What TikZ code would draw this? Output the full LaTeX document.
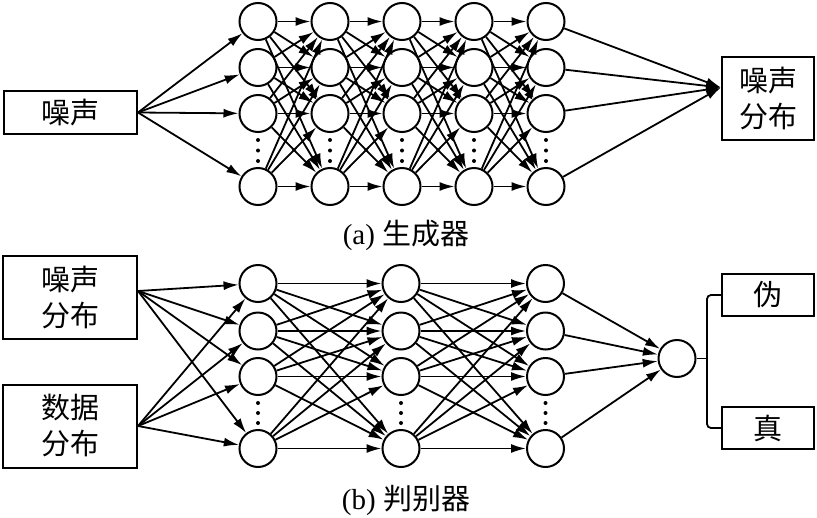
\documentclass[tikz,border=0pt]{standalone}
\usepackage{fontspec}
\setmainfont{Liberation Serif}
\newfontfamily\cjk{Noto Sans CJK SC}
\usetikzlibrary{arrows.meta,calc}
\begin{document}
\begin{tikzpicture}[x=1pt,y=-1pt,
  neuron/.style={circle,draw,line width=2pt,minimum size=37pt,inner sep=0pt},
  boxn/.style={draw,line width=2pt,inner sep=0pt,align=center,font=\fontsize{29}{36}\selectfont\cjk},
  conn/.style={line width=1.8pt,-{Latex[length=15pt,width=9pt]}},
  plain/.style={line width=1.8pt},
  dotn/.style={circle,fill,inner sep=0pt,minimum size=4pt},
  captxt/.style={font=\fontsize{29}{32}\selectfont}]
\useasboundingbox (0,0) rectangle (817,517);
% ---------- generator ----------
\node[boxn,minimum width=133pt,minimum height=43pt] (gin) at (70.5,112.5) {噪声};
\node[boxn,minimum width=92pt,minimum height=83pt] (gout) at (768,98.5) {噪声\\分布};
\coordinate (gtip) at ($(gout.west)+(0,-11)$);
\foreach \c/\x in {1/258,2/330,3/402,4/474,5/546}{
  \foreach \r/\y in {1/21.5,2/67.5,3/113.5,5/186.5}{
    \node[neuron] (g\c\r) at (\x,\y) {};
  }
  \node[dotn] (gd\c a) at (\x,140) {};
  \node[dotn] (gd\c b) at (\x,150.5) {};
  \node[dotn] (gd\c c) at (\x,161) {};
}
\foreach \r in {1,2,3,5}{
  \draw[conn] (gin.east) -- (g1\r);
  \draw[conn] (g5\r) -- (gtip);
}
\foreach \c/\n in {1/2,2/3,3/4,4/5}{
  \foreach \r in {1,2,3,5}{
    \foreach \s in {1,2,3,5}{
      \draw[conn] (g\c\r) -- (g\n\s);
    }
  }
}
\node[captxt] (capa) at (406,235) {(a) {\cjk 生成器}};
% ---------- discriminator ----------
\node[boxn,minimum width=134pt,minimum height=83pt] (dn) at (70,297.5) {噪声\\分布};
\node[boxn,minimum width=134pt,minimum height=83pt] (dd) at (70,426) {数据\\分布};
\coordinate (dns) at ($(dn.east)+(0,-6.5)$);
\coordinate (dds) at (dd.east);
\foreach \c/\x in {1/258,2/401,3/545.5}{
  \foreach \r/\y in {1/283.5,2/331,3/376.5,5/448.5}{
    \node[neuron] (d\c\r) at (\x,\y) {};
  }
  \node[dotn] (dd\c a) at (\x,403) {};
  \node[dotn] (dd\c b) at (\x,413) {};
  \node[dotn] (dd\c c) at (\x,423) {};
}
\node[neuron] (dout) at (677,358.5) {};
\node[boxn,minimum width=92pt,minimum height=42pt] (fake) at (768,295) {伪};
\node[boxn,minimum width=92pt,minimum height=42pt] (real) at (768,428) {真};
\foreach \r in {1,2,3,5}{
  \draw[conn] (dns) -- (d1\r);
  \draw[conn] (dds) -- (d1\r);
  \draw[conn] (d3\r) -- (dout);
}
\foreach \c/\n in {1/2,2/3}{
  \foreach \r in {1,2,3,5}{
    \foreach \s in {1,2,3,5}{
      \draw[conn] (d\c\r) -- (d\n\s);
    }
  }
}
\coordinate (br) at (707,358.5);
\draw[plain] (dout.east) -- (br);
\draw[plain,rounded corners=4pt] (fake.west) -| (br) |- (real.west);
\node[captxt] (capb) at (406,500) {(b) {\cjk 判别器}};
\end{tikzpicture}
\end{document}
